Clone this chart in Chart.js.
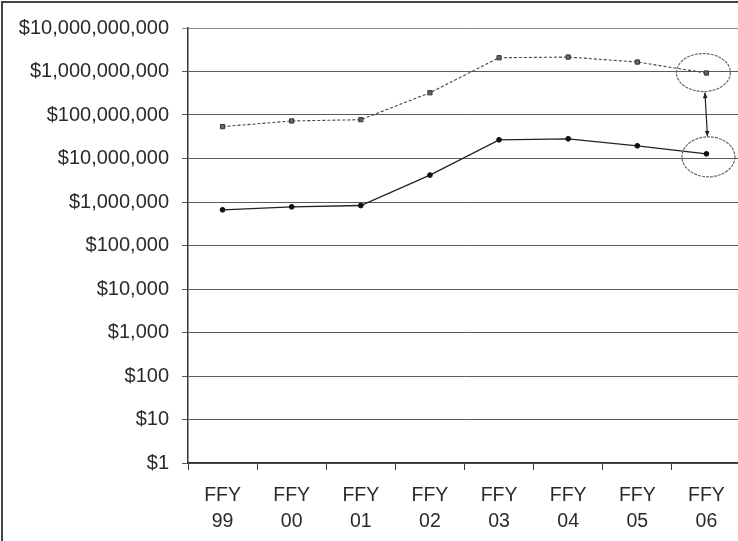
<!DOCTYPE html>
<html>
<head>
<meta charset="utf-8">
<script src="https://cdn.jsdelivr.net/npm/chart.js@4/dist/chart.umd.min.js"></script>
<style>
  html, body { margin: 0; padding: 0; background: #fff; overflow: hidden; width: 738px; height: 541px; }
  #frame { position: absolute; left: 1px; top: 1px; width: 800px; height: 600px; border-left: 2px solid #444; border-top: 2px solid #444; box-sizing: border-box; }
  #wrap { position: absolute; left: 0; top: 0; width: 746px; height: 541px; }
</style>
</head>
<body>
<div id="frame"></div>
<div id="wrap"><canvas id="c"></canvas></div>
<script>
// ---- data ----
const categories = [['FFY','99'],['FFY','00'],['FFY','01'],['FFY','02'],['FFY','03'],['FFY','04'],['FFY','05'],['FFY','06']];
const upperSeries = [54000000, 73000000, 78000000, 325000000, 2070000000, 2150000000, 1650000000, 922000000];
const lowerSeries = [661000, 774000, 830000, 4150000, 26900000, 28400000, 19600000, 12800000];
const yTickValues = [1, 10, 100, 1000, 10000, 100000, 1000000, 10000000, 100000000, 1000000000, 10000000000];

const annotationPlugin = {
  id: 'circles',
  afterDatasetsDraw(chart) {
    const ctx = chart.ctx;
    const last = categories.length - 1;
    const pU = chart.getDatasetMeta(0).data[last];
    const pL = chart.getDatasetMeta(1).data[last];
    ctx.save();
    ctx.strokeStyle = '#6a6a6a';
    ctx.lineWidth = 1.2;
    ctx.setLineDash([3, 1]);
    ctx.beginPath();
    ctx.ellipse(pU.x - 3, pU.y - 0.5, 27, 19, 0, 0, Math.PI * 2);
    ctx.stroke();
    ctx.beginPath();
    ctx.ellipse(pL.x + 2, pL.y + 3, 26.5, 20, 0, 0, Math.PI * 2);
    ctx.stroke();
    ctx.setLineDash([]);
    // double-headed arrow
    const x1 = pU.x - 1.5, y1 = pU.y + 19.5;
    const x2 = pL.x + 1, y2 = pL.y - 17.5;
    ctx.strokeStyle = '#222';
    ctx.fillStyle = '#222';
    ctx.lineWidth = 1.2;
    ctx.beginPath(); ctx.moveTo(x1, y1); ctx.lineTo(x2, y2); ctx.stroke();
    const ang = Math.atan2(y2 - y1, x2 - x1);
    function head(x, y, a) {
      ctx.beginPath();
      ctx.moveTo(x, y);
      ctx.lineTo(x - 6 * Math.cos(a - 0.4), y - 6 * Math.sin(a - 0.4));
      ctx.lineTo(x - 6 * Math.cos(a + 0.4), y - 6 * Math.sin(a + 0.4));
      ctx.closePath(); ctx.fill();
    }
    head(x2, y2, ang);
    head(x1, y1, ang + Math.PI);
    ctx.restore();
  }
};

new Chart(document.getElementById('c'), {
  type: 'line',
  data: {
    labels: categories,
    datasets: [
      {
        data: upperSeries,
        borderColor: '#444',
        borderWidth: 1.1,
        borderDash: [3, 2],
        pointStyle: 'rect',
        pointRadius: 3,
        pointBackgroundColor: '#666',
        pointBorderColor: '#333',
        pointBorderWidth: 1,
        tension: 0
      },
      {
        data: lowerSeries,
        borderColor: '#222',
        borderWidth: 1.3,
        pointStyle: 'circle',
        pointRadius: 2.4,
        pointBackgroundColor: '#111',
        pointBorderColor: '#111',
        pointBorderWidth: 1,
        tension: 0
      }
    ]
  },
  options: {
    responsive: true,
    maintainAspectRatio: false,
    animation: false,
    devicePixelRatio: 1,
    layout: { padding: { left: 0, right: 4, top: 28, bottom: 0 } },
    plugins: { legend: { display: false }, tooltip: { enabled: false } },
    scales: {
      x: {
        type: 'category',
        offset: true,
        grid: { display: true, drawOnChartArea: false, offset: true, color: '#333', tickLength: 7, lineWidth: 1 },
        border: { display: true, color: '#333', width: 1.5 },
        ticks: {
          color: '#2a2a2a',
          font: { family: 'Liberation Sans, Arial, sans-serif', size: 19.5, lineHeight: 1.37 },
          padding: 12,
          maxRotation: 0,
          autoSkip: false
        },
        afterFit(scale) { scale.height = 78; }
      },
      y: {
        type: 'logarithmic',
        min: 1,
        max: 10000000000,
        afterBuildTicks(scale) { scale.ticks = yTickValues.map(v => ({ value: v })); },
        grid: {
          color: (c) => (c.tick && c.tick.value === 10000000000) ? '#8a8a8a' : '#5a5a5a',
          lineWidth: 1,
          tickLength: 6,
          drawTicks: true
        },
        border: { display: true, color: '#333', width: 1.5 },
        ticks: {
          color: '#2a2a2a',
          font: { family: 'Liberation Sans, Arial, sans-serif', size: 20 },
          padding: 13,
          autoSkip: false,
          callback: (v) => '$' + Number(v).toLocaleString('en-US')
        },
        afterFit(scale) { scale.width = 188; }
      }
    }
  },
  plugins: [annotationPlugin]
});
</script>
</body>
</html>
